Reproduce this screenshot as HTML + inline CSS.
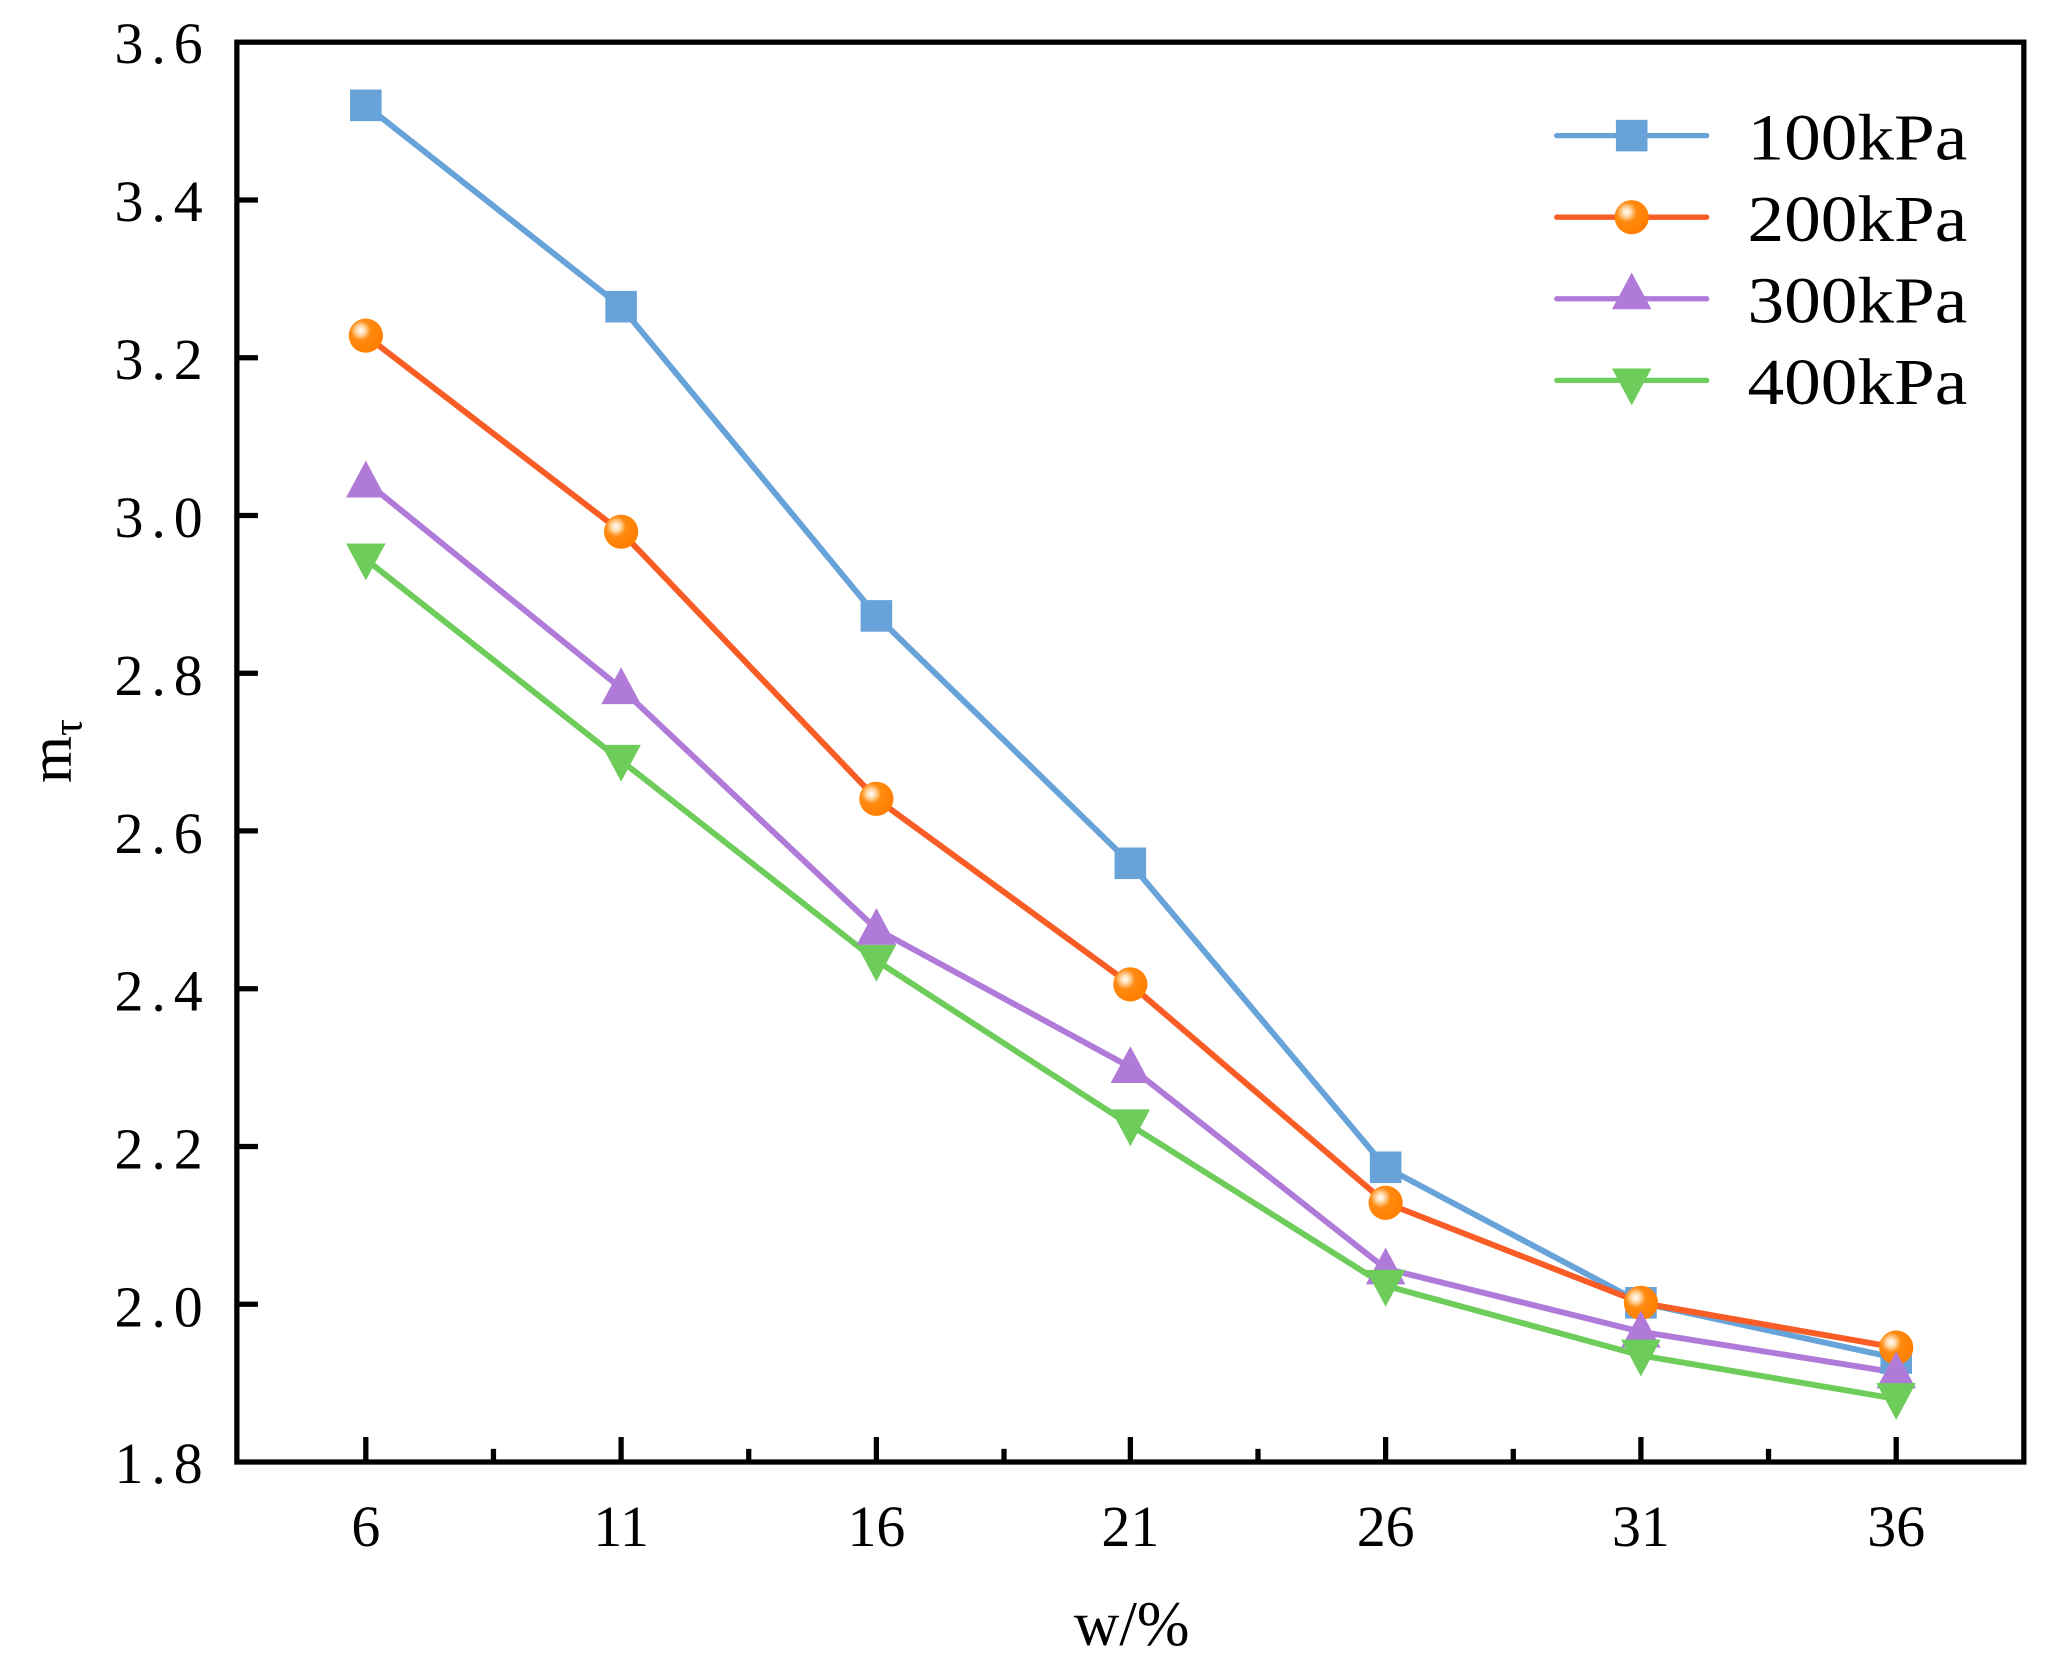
<!DOCTYPE html>
<html><head><meta charset="utf-8"><style>
html,body{margin:0;padding:0;background:#fff;}
svg{display:block;}
text{font-family:"Liberation Serif","Noto Serif CJK SC",serif;fill:#000;}
</style></head><body>
<svg width="2062" height="1670" viewBox="0 0 1567 1269" xmlns="http://www.w3.org/2000/svg">
<defs>
<radialGradient id="ball" cx="0.35" cy="0.35" r="0.65">
<stop offset="0" stop-color="#fff"/><stop offset="0.2" stop-color="#ffd9a8"/><stop offset="0.45" stop-color="#ff8a10"/><stop offset="1" stop-color="#ff7f00"/>
</radialGradient>
<rect id="sq" x="-12" y="-12" width="24" height="24" fill="#67a3d8"/>
<circle id="ci" r="13" fill="url(#ball)"/>
<path id="tu" d="M0,-16 L15,12 L-15,12 Z" fill="#b07ad9"/>
<path id="td" d="M0,16 L15,-12 L-15,-12 Z" fill="#6dcc5a"/>
</defs>
<rect x="180" y="32" width="1358" height="1079" fill="none" stroke="#000" stroke-width="4"/>
<g stroke="#000" stroke-width="4">
<line x1="180" y1="151.9" x2="196" y2="151.9"/><line x1="180" y1="271.8" x2="196" y2="271.8"/>
<line x1="180" y1="391.7" x2="196" y2="391.7"/><line x1="180" y1="511.6" x2="196" y2="511.6"/>
<line x1="180" y1="631.4" x2="196" y2="631.4"/><line x1="180" y1="751.3" x2="196" y2="751.3"/>
<line x1="180" y1="871.2" x2="196" y2="871.2"/><line x1="180" y1="991.1" x2="196" y2="991.1"/>
<line x1="278" y1="1111" x2="278" y2="1092"/><line x1="375" y1="1111" x2="375" y2="1101"/>
<line x1="472" y1="1111" x2="472" y2="1092"/><line x1="569" y1="1111" x2="569" y2="1101"/>
<line x1="666" y1="1111" x2="666" y2="1092"/><line x1="763" y1="1111" x2="763" y2="1101"/>
<line x1="859" y1="1111" x2="859" y2="1092"/><line x1="956" y1="1111" x2="956" y2="1101"/>
<line x1="1053" y1="1111" x2="1053" y2="1092"/><line x1="1150" y1="1111" x2="1150" y2="1101"/>
<line x1="1247" y1="1111" x2="1247" y2="1092"/><line x1="1344" y1="1111" x2="1344" y2="1101"/>
<line x1="1441" y1="1111" x2="1441" y2="1092"/>
</g>
<g font-size="44" text-anchor="end" letter-spacing="6">
<text x="160" y="48">3.6</text><text x="160" y="168">3.4</text><text x="160" y="288">3.2</text>
<text x="160" y="408">3.0</text><text x="160" y="528">2.8</text><text x="160" y="648">2.6</text>
<text x="160" y="768">2.4</text><text x="160" y="888">2.2</text><text x="160" y="1008">2.0</text>
<text x="160" y="1127">1.8</text>
</g>
<g font-size="44" text-anchor="middle">
<text x="278" y="1175">6</text><text x="472" y="1175">11</text><text x="666" y="1175">16</text>
<text x="859" y="1175">21</text><text x="1053" y="1175">26</text><text x="1247" y="1175">31</text>
<text x="1441" y="1175">36</text>
<text x="860" y="1250" font-size="48">w/%</text>
</g>
<text transform="translate(54,595) rotate(-90)" font-size="46">m<tspan font-size="32" dy="8">τ</tspan></text>
<g fill="none" stroke-width="4.5" stroke-linejoin="round">
<polyline stroke="#67a3d8" points="278,80 472,233 666,468 859,656 1053,887 1247,990 1441,1032"/>
<polyline stroke="#f95c24" points="278,255 472,404 666,607 859,748 1053,914 1247,990 1441,1024"/>
<polyline stroke="#b07ad9" points="278,366 472,523 666,706 859,811 1053,964 1247,1012 1441,1043"/>
<polyline stroke="#6dcc5a" points="278,425 472,578 666,730 859,855 1053,977 1247,1030 1441,1063"/>
</g>
<use href="#sq" x="278" y="80"/><use href="#sq" x="472" y="233"/><use href="#sq" x="666" y="468"/><use href="#sq" x="859" y="656"/><use href="#sq" x="1053" y="887"/><use href="#sq" x="1247" y="990"/><use href="#sq" x="1441" y="1032"/>
<use href="#ci" x="278" y="255"/><use href="#ci" x="472" y="404"/><use href="#ci" x="666" y="607"/><use href="#ci" x="859" y="748"/><use href="#ci" x="1053" y="914"/><use href="#ci" x="1247" y="990"/><use href="#ci" x="1441" y="1024"/>
<use href="#tu" x="278" y="366"/><use href="#tu" x="472" y="523"/><use href="#tu" x="666" y="706"/><use href="#tu" x="859" y="811"/><use href="#tu" x="1053" y="964"/><use href="#tu" x="1247" y="1012"/><use href="#tu" x="1441" y="1043"/>
<use href="#td" x="278" y="425"/><use href="#td" x="472" y="578"/><use href="#td" x="666" y="730"/><use href="#td" x="859" y="855"/><use href="#td" x="1053" y="977"/><use href="#td" x="1247" y="1030"/><use href="#td" x="1441" y="1063"/>
<g stroke-width="4" stroke-linecap="round">
<line x1="1183" y1="103" x2="1297" y2="103" stroke="#67a3d8"/>
<line x1="1183" y1="165" x2="1297" y2="165" stroke="#f95c24"/>
<line x1="1183" y1="227" x2="1297" y2="227" stroke="#b07ad9"/>
<line x1="1183" y1="289" x2="1297" y2="289" stroke="#6dcc5a"/>
</g>
<use href="#sq" x="1240" y="103"/><use href="#ci" x="1240" y="165"/><use href="#tu" x="1240" y="223"/><use href="#td" x="1240" y="292"/>
<g font-size="50">
<text x="1328" y="121" textLength="167" lengthAdjust="spacingAndGlyphs">100kPa</text>
<text x="1328" y="183" textLength="167" lengthAdjust="spacingAndGlyphs">200kPa</text>
<text x="1328" y="245" textLength="167" lengthAdjust="spacingAndGlyphs">300kPa</text>
<text x="1328" y="307" textLength="167" lengthAdjust="spacingAndGlyphs">400kPa</text>
</g>
</svg>
</body></html>
